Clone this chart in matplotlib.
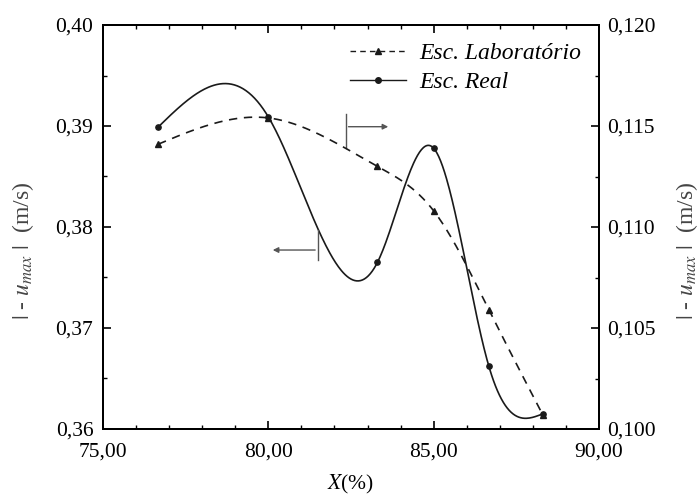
import numpy as np
import matplotlib
matplotlib.use("Agg")
import matplotlib.pyplot as plt
from matplotlib.ticker import FuncFormatter, MultipleLocator
from matplotlib.lines import Line2D

plt.rcParams['font.family'] = ['Liberation Serif', 'DejaVu Serif']
plt.rcParams['mathtext.fontset'] = 'stix'

# Data
x_vals = [76.67, 80.0, 83.3, 85.0, 86.67, 88.3]
lab_vals = [0.1141, 0.1154, 0.1130, 0.1108, 0.1059, 0.1007]   # right axis
real_vals = [0.3899, 0.3909, 0.3765, 0.3878, 0.3662, 0.3615]  # left axis
x_ticks = [75, 80, 85, 90]
left_ticks = [0.36, 0.37, 0.38, 0.39, 0.40]
right_ticks = [0.100, 0.105, 0.110, 0.115, 0.120]


def natural_spline(x, y, xs):
    x = np.asarray(x, float); y = np.asarray(y, float)
    n = len(x); h = np.diff(x)
    A = np.zeros((n, n)); r = np.zeros(n)
    A[0, 0] = 1; A[-1, -1] = 1
    for i in range(1, n - 1):
        A[i, i - 1] = h[i - 1]; A[i, i] = 2 * (h[i - 1] + h[i]); A[i, i + 1] = h[i]
        r[i] = 3 * ((y[i + 1] - y[i]) / h[i] - (y[i] - y[i - 1]) / h[i - 1])
    c = np.linalg.solve(A, r)
    b = np.array([(y[i + 1] - y[i]) / h[i] - h[i] * (2 * c[i] + c[i + 1]) / 3 for i in range(n - 1)])
    d = np.array([(c[i + 1] - c[i]) / (3 * h[i]) for i in range(n - 1)])
    idx = np.clip(np.searchsorted(x, xs) - 1, 0, n - 2)
    dx = xs - x[idx]
    return y[idx] + b[idx] * dx + c[idx] * dx ** 2 + d[idx] * dx ** 3


fig = plt.figure(figsize=(6.99, 5.0), dpi=100)
ax = fig.add_axes([103 / 699, 1 - 429 / 500, (599 - 103) / 699, (429 - 25) / 500])
ax2 = ax.twinx()

xs = np.linspace(min(x_vals), max(x_vals), 400)
col = '#1a1a1a'
ax.plot(xs, natural_spline(x_vals, real_vals, xs), '-', color=col, lw=1.2)
ax.plot(x_vals, real_vals, 'o', color=col, ms=3.8)
ax2.plot(xs, natural_spline(x_vals, lab_vals, xs), '--', color=col, lw=1.2, dashes=(5, 4))
ax2.plot(x_vals, lab_vals, '^', color=col, ms=3.8)

ax.set_xlim(75, 90)
ax.set_ylim(0.36, 0.40)
ax2.set_ylim(0.100, 0.120)

ax.set_xticks(x_ticks)
ax.xaxis.set_minor_locator(MultipleLocator(1))
ax.set_yticks(left_ticks)
ax.yaxis.set_minor_locator(MultipleLocator(0.005))
ax2.set_yticks(right_ticks)
ax2.yaxis.set_minor_locator(MultipleLocator(0.0025))

ax.xaxis.set_major_formatter(FuncFormatter(lambda v, p: f"{v:.2f}".replace('.', ',')))
ax.yaxis.set_major_formatter(FuncFormatter(lambda v, p: f"{v:.2f}".replace('.', ',')))
ax2.yaxis.set_major_formatter(FuncFormatter(lambda v, p: f"{v:.3f}".replace('.', ',')))

ax.tick_params(axis='x', which='major', direction='in', length=6, width=1.2, labelsize=15.5,
               top=True, pad=10)
ax.tick_params(axis='y', which='major', direction='in', length=6, width=1.2, labelsize=15.5,
               right=False, pad=7)
ax.tick_params(axis='both', which='minor', direction='in', length=3, width=1.0, top=True, right=False)
ax2.tick_params(axis='y', which='major', direction='in', length=6, width=1.2, labelsize=15.5, pad=6)
ax2.tick_params(axis='y', which='minor', direction='in', length=3, width=1.0)

for a in (ax, ax2):
    for s in a.spines.values():
        s.set_linewidth(1.4)

ylab = r'$|$ - $u_{max}$ $|$  (m/s)'
ax.set_ylabel(ylab, fontsize=17, color='#444444')
ax.yaxis.set_label_coords(-0.135, 0.44)
ax2.set_ylabel(ylab, fontsize=17, color='#444444', rotation=90)
ax2.yaxis.set_label_coords(1.152, 0.44)
ax.set_xlabel(r'$X$(%)', fontsize=15.5, labelpad=8)

# annotation arrows
gray = '#555555'
ax.plot([82.34, 82.34], [0.39119, 0.38782], color=gray, lw=1.0)
ax.annotate('', xy=(83.71, 0.38993), xytext=(82.34, 0.38993),
            arrowprops=dict(arrowstyle='-|>', color=gray, lw=1.0, mutation_scale=8))
ax.plot([81.50, 81.50], [0.37970, 0.37673], color=gray, lw=1.0)
ax.annotate('', xy=(80.05, 0.37772), xytext=(81.50, 0.37772),
            arrowprops=dict(arrowstyle='-|>', color=gray, lw=1.0, mutation_scale=8))

handles = [Line2D([], [], color=col, ls='--', dashes=(4, 3), marker='^', ms=4, lw=1.0),
           Line2D([], [], color=col, ls='-', marker='o', ms=4, lw=1.0)]
leg = ax.legend(handles, ['Esc. Laboratório', 'Esc. Real'], loc='upper right', frameon=False,
                prop={'family': 'Liberation Serif', 'style': 'italic', 'size': 17},
                handlelength=2.4, borderaxespad=0.45, borderpad=0.3, labelspacing=0.3,
                handletextpad=0.55)

fig.savefig('out.png', dpi=100)
